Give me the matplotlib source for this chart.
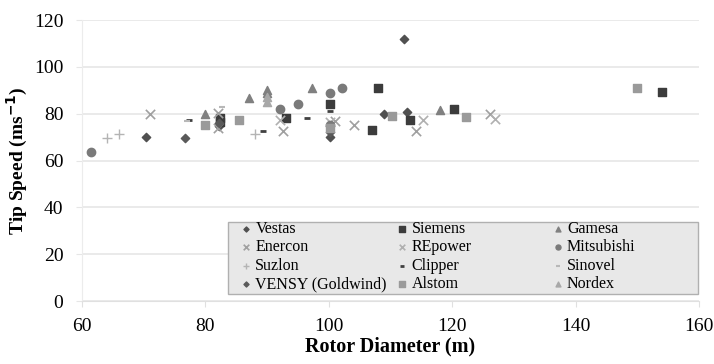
import matplotlib.pyplot as plt
from matplotlib.patches import Rectangle

plt.rcParams['font.family'] = 'Liberation Serif'

# rotor diameter (m) and tip speed (m/s) per manufacturer
vestas_d = [70.3, 82.2, 100.2, 109.0, 112.1, 112.6]
vestas_v = [70.2, 74.8, 70.2, 80.0, 112.0, 80.6]
siemens_d = [82.3, 82.3, 93.0, 100.2, 107.0, 108.0, 113.2, 120.3, 154.0]
siemens_v = [78.1, 76.5, 78.3, 84.2, 73.1, 90.9, 77.4, 82.0, 89.2]
gamesa_d = [80.0, 87.0, 90.0, 90.0, 97.2, 118.0]
gamesa_v = [79.8, 86.9, 90.2, 88.8, 90.9, 81.6]
enercon_d = [71.0, 82.0, 82.0, 92.5, 101.0, 104.0, 114.2, 126.2]
enercon_v = [79.9, 80.2, 73.9, 72.6, 77.0, 75.2, 72.4, 79.9]
repower_d = [92.0, 100.2, 115.2, 127.0]
repower_v = [77.3, 76.5, 77.4, 77.8]
mitsubishi_d = [61.4, 92.0, 95.0, 100.2, 102.2, 100.2]
mitsubishi_v = [63.7, 81.9, 84.3, 89.0, 90.9, 75.0]
suzlon_d = [64.0, 66.0, 88.0]
suzlon_v = [69.5, 71.4, 71.4]
clipper_d = [77.4, 89.3, 96.5, 100.2]
clipper_v = [77.4, 72.4, 78.3, 81.0]
sinovel_d = [82.7, 77.0]
sinovel_v = [83.0, 77.0]
vensy_d = [76.7, 82.2, 100.2]
vensy_v = [69.8, 76.0, 72.0]
alstom_d = [80.0, 85.5, 110.3, 122.2, 150.0, 100.2]
alstom_v = [75.2, 77.4, 79.2, 78.5, 90.9, 74.0]
nordex_d = [90.0, 90.0]
nordex_v = [87.3, 85.2]

fig = plt.figure(figsize=(7.14, 3.64), dpi=100)
ax = fig.add_axes([0.115, 0.173, 0.864, 0.772])

h = {}
h['Vestas'] = ax.scatter(vestas_d, vestas_v, marker='D', s=18, color='#505050', zorder=3)
h['Siemens'] = ax.scatter(siemens_d, siemens_v, marker='s', s=40, color='#3c3c3c', zorder=3)
h['Gamesa'] = ax.scatter(gamesa_d, gamesa_v, marker='^', s=34, color='#808080', zorder=3)
h['Enercon'] = ax.scatter(enercon_d, enercon_v, marker='x', s=45, color='#a0a0a0', linewidths=1.2, zorder=3)
h['REpower'] = ax.scatter(repower_d, repower_v, marker='x', s=45, color='#b0b0b0', linewidths=1.2, zorder=3)
h['Mitsubishi'] = ax.scatter(mitsubishi_d, mitsubishi_v, marker='o', s=36, color='#7a7a7a', zorder=3)
h['Suzlon'] = ax.scatter(suzlon_d, suzlon_v, marker='+', s=50, color='#b4b4b4', linewidths=1.0, zorder=3)
h['Clipper'] = ax.scatter(clipper_d, clipper_v, marker='_', s=25, color='#404040', linewidths=2.0, zorder=3)
h['Sinovel'] = ax.scatter(sinovel_d, sinovel_v, marker='_', s=25, color='#b8b8b8', linewidths=1.5, zorder=3)
h['VENSY (Goldwind)'] = ax.scatter(vensy_d, vensy_v, marker='D', s=18, color='#5a5a5a', zorder=3)
h['Alstom'] = ax.scatter(alstom_d, alstom_v, marker='s', s=40, color='#9a9a9a', zorder=3)
h['Nordex'] = ax.scatter(nordex_d, nordex_v, marker='^', s=34, color='#a8a8a8', zorder=3)

ax.set_xlim(60, 160)
ax.set_ylim(0, 120)
ax.set_xticks(range(60, 161, 20))
ax.set_yticks(range(0, 121, 20))
ax.grid(axis='y', color='#e6e6e6', linewidth=1.2)
ax.set_axisbelow(True)
for s in ['top', 'right']:
    ax.spines[s].set_visible(False)
ax.spines['bottom'].set_color('#e0e0e0')
ax.spines['left'].set_color('#ececec')
ax.tick_params(axis='y', length=4.5, color='#e6e6e6', labelsize=14, pad=9)
ax.tick_params(axis='x', length=4, color='#e0e0e0', labelsize=14, pad=8)

ax.set_xlabel('Rotor Diameter (m)', fontsize=14.5, fontweight='bold', labelpad=1)
ax.set_ylabel('Tip Speed (ms$^{\\mathbf{-1}}$)', fontsize=14, fontweight='bold', labelpad=3)

# grey box behind the legend, then one legend per column
ax.add_patch(Rectangle((0.237, 0.025), 0.761, 0.256, transform=ax.transAxes,
                       facecolor='#e8e8e8', edgecolor='#b0b0b0', linewidth=1.0,
                       zorder=4, clip_on=False))
columns = [['Vestas', 'Enercon', 'Suzlon', 'VENSY (Goldwind)'],
           ['Siemens', 'REpower', 'Clipper', 'Alstom'],
           ['Gamesa', 'Mitsubishi', 'Sinovel', 'Nordex']]
col_x = [0.256, 0.509, 0.761]
for i, (names, x0) in enumerate(zip(columns, col_x)):
    leg = ax.legend([h[k] for k in names], names, loc='upper left',
                    bbox_to_anchor=(x0, 0.284), frameon=False, fontsize=11.5,
                    handletextpad=0.16, handlelength=0.8, markerscale=0.6,
                    labelspacing=0.14, borderpad=0, borderaxespad=0)
    leg.set_zorder(5)
    # the last one stays as ax.legend_, the others are kept as artists
    if i < len(columns) - 1:
        ax.add_artist(leg)

fig.savefig('out.png', dpi=100)
